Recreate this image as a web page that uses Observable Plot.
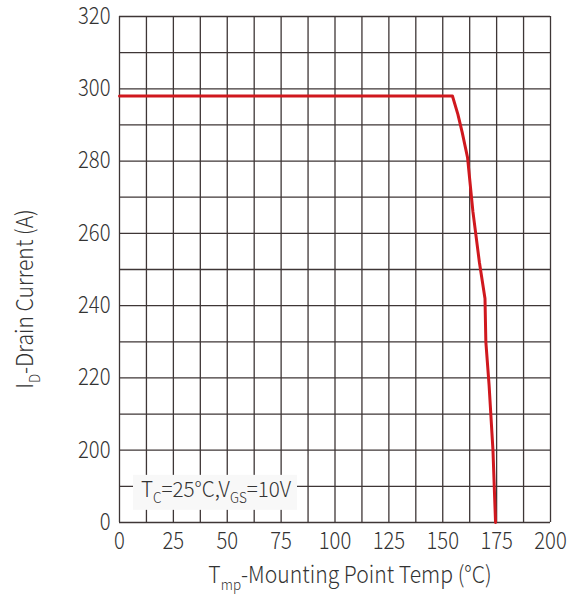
<!DOCTYPE html>
<html><head><meta charset="utf-8">
<script src="https://cdn.jsdelivr.net/npm/d3@7"></script>
<script src="https://cdn.jsdelivr.net/npm/@observablehq/plot@0.6"></script>
<style>
html,body{margin:0;padding:0;background:#fff;}
svg text{font-family:"Noto Sans CJK SC","Noto Sans",sans-serif;}
</style>
</head><body>
<div id="chart"></div>
<script>
// Data (real units)
const temps    = [0, 154.5, 157, 159, 161.5, 164, 167, 169.6, 170, 171.5, 172.8, 173.3, 174.5];
const currents = [298, 298, 293, 288, 281, 266, 252, 242, 230, 218, 205, 200, 0];
const xTicks = [0, 25, 50, 75, 100, 125, 150, 175, 200];
const yTickValues = [0, 200, 220, 240, 260, 280, 300, 320];
const gridX = [0, 12.5, 25, 37.5, 50, 62.5, 75, 87.5, 100, 112.5, 125, 137.5, 150, 162.5, 175, 187.5, 200];
const gridY = [0, 100, 200, 210, 220, 230, 240, 250, 260, 270, 280, 290, 300, 310, 320];

// broken axis: 0..200 squeezed into one 20-unit step
const toU = v => v >= 200 ? v : 180 + v / 10;
const fromU = u => u >= 200 ? u : (u - 180) * 10;

const data = temps.map((t, i) => ({t, u: toU(currents[i])}));
const gridColor = "#3e3636";
const textColor = "#333";
const SQ = 0.88; // condensed text

const plot = Plot.plot({
  width: 579, height: 594,
  marginLeft: 119, marginRight: 29, marginTop: 16, marginBottom: 72,
  style: {background: "#fff", fontFamily: "'Noto Sans CJK SC','Noto Sans',sans-serif"},
  x: {domain: [0, 200]},
  y: {domain: [180, 320]},
  marks: [
    Plot.ruleX(gridX, {stroke: gridColor, strokeWidth: 1.3, strokeOpacity: 1}),
    Plot.ruleY(gridY.map(toU), {stroke: gridColor, strokeWidth: 1.3, strokeOpacity: 1}),
    Plot.line(data, {x: "t", y: "u", stroke: "#d0181e", strokeWidth: 3, curve: "linear"}),
    Plot.axisX({ticks: xTicks, tickSize: 0, tickPadding: 10, fontSize: 23, label: null, color: textColor}),
    Plot.axisY({ticks: yTickValues.map(toU), tickFormat: u => String(fromU(u)), tickSize: 0, tickPadding: 9, fontSize: 23, label: null, color: textColor})
  ]
});
document.getElementById("chart").appendChild(plot);

const svg = d3.select(plot);
svg.selectAll("g[aria-label$='tick label'] text")
  .style("font-size", "23px").style("fill", textColor)
  .attr("transform", function() { return (this.getAttribute("transform") || "") + ` scale(${SQ},1)`; });
svg.selectAll("text").style("font-weight", "300");
const sx = plot.scale("x"), sy = plot.scale("y");

// annotation box
const ax = sx.apply(6.5), ay = sy.apply(190);
const g = svg.append("g").attr("text-anchor", "start");
g.append("rect").attr("x", ax).attr("y", ay - 11).attr("width", 164).attr("height", 35).attr("fill", "#f8f8f8");
const t1 = g.append("text").attr("transform", `translate(${ax + 8},${ay + 11}) scale(0.96,1)`).style("font-size", "21.5px").attr("fill", textColor).style("font-weight","300");
t1.append("tspan").text("T");
t1.append("tspan").style("font-size", "14px").attr("dy", 6).text("C");
t1.append("tspan").attr("dy", -6).text("=25°C,V");
t1.append("tspan").style("font-size", "14px").attr("dy", 6).text("GS");
t1.append("tspan").attr("dy", -6).text("=10V");

// axis titles
const xl = svg.append("text").attr("transform", `translate(350,583) scale(0.9,1)`).attr("text-anchor", "middle").style("font-size", "23.5px").attr("fill", textColor).style("font-weight","300");
xl.append("tspan").text("T");
xl.append("tspan").style("font-size", "15px").attr("dy", 7).text("mp");
xl.append("tspan").attr("dy", -7).text("-Mounting Point Temp (°C)");

const yl = svg.append("text").attr("transform", `translate(33,299) rotate(-90) scale(0.9,1)`).attr("text-anchor", "middle").style("font-size", "23.5px").attr("fill", textColor).style("font-weight","300");
yl.append("tspan").text("I");
yl.append("tspan").style("font-size", "15px").attr("dy", 7).text("D");
yl.append("tspan").attr("dy", -7).text("-Drain Current (A)");
</script>
</body></html>
